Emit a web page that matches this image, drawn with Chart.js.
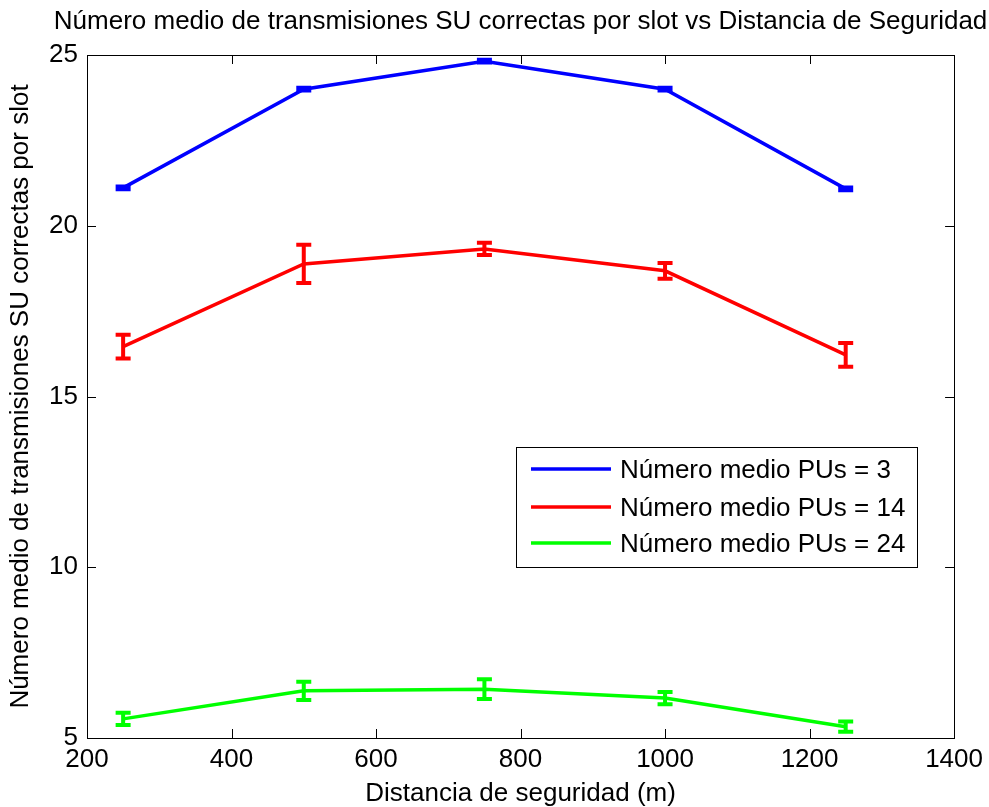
<!DOCTYPE html>
<html>
<head>
<meta charset="utf-8">
<script src="https://cdn.jsdelivr.net/npm/chart.js@4/dist/chart.umd.min.js"></script>
<style>
  html, body { margin: 0; padding: 0; background: #fff; }
  #wrap { width: 989px; height: 807px; }
</style>
</head>
<body>
<div id="wrap"><canvas id="c" width="989" height="807"></canvas></div>
<script>
// Safety distance (m)
const distances = [250, 500, 750, 1000, 1250];

// Mean number of correct SU transmissions per slot, one series per mean PU count
const seriesLabels = ['Número medio PUs = 3', 'Número medio PUs = 14', 'Número medio PUs = 24'];
const meanPU3  = [21.11, 24.00, 24.82, 24.00, 21.08];
const meanPU14 = [16.46, 18.88, 19.32, 18.68, 16.22];
const meanPU24 = [5.56, 6.38, 6.43, 6.17, 5.33];

// Half-width of the error bars
const errPU3  = [0.04, 0.04, 0.04, 0.04, 0.04];
const errPU14 = [0.35, 0.56, 0.18, 0.23, 0.35];
const errPU24 = [0.18, 0.27, 0.29, 0.18, 0.15];

const xTicks = [200, 400, 600, 800, 1000, 1200, 1400];
const yTicks = [5, 10, 15, 20, 25];

const chartTitle = 'Número medio de transmisiones SU correctas por slot vs Distancia de Seguridad';
const xTitle = 'Distancia de seguridad (m)';
const yTitle = 'Número medio de transmisiones SU correctas por slot';

const FONT = '"Liberation Sans", Arial, Helvetica, sans-serif';
const colors = ['#0000ff', '#ff0000', '#00ff00'];

const means = [meanPU3, meanPU14, meanPU24];
const errs = [errPU3, errPU14, errPU24];

const datasets = means.map((vals, k) => ({
  label: seriesLabels[k],
  data: distances.map((d, i) => ({ x: d, y: vals[i] })),
  errors: errs[k],
  borderColor: colors[k],
  backgroundColor: colors[k],
  borderWidth: 3.5,
  pointRadius: 0,
  tension: 0,
  fill: false
}));

// Vertical error bars with caps, placed through the chart scales
const errorBars = {
  id: 'errorBars',
  afterDatasetsDraw(chart) {
    const ctx = chart.ctx;
    const xs = chart.scales.x, ys = chart.scales.y;
    ctx.save();
    chart.data.datasets.forEach(ds => {
      ctx.strokeStyle = ds.borderColor;
      ctx.lineWidth = 4;
      ctx.lineCap = 'butt';
      ds.data.forEach((p, i) => {
        const e = ds.errors[i];
        const x = xs.getPixelForValue(p.x);
        const yt = ys.getPixelForValue(p.y + e);
        const yb = ys.getPixelForValue(p.y - e);
        const hw = 7.5;
        ctx.beginPath();
        ctx.moveTo(x, yt); ctx.lineTo(x, yb);
        ctx.moveTo(x - hw, yt); ctx.lineTo(x + hw, yt);
        ctx.moveTo(x - hw, yb); ctx.lineTo(x + hw, yb);
        ctx.stroke();
      });
    });
    ctx.restore();
  }
};

// Box around the plot area with inward tick marks on all four sides
const axesBox = {
  id: 'axesBox',
  afterDraw(chart) {
    const ctx = chart.ctx;
    const a = chart.chartArea;
    const xs = chart.scales.x, ys = chart.scales.y;
    const len = 9;
    ctx.save();
    ctx.strokeStyle = '#000';
    ctx.lineWidth = 1;
    ctx.beginPath();
    xTicks.forEach(v => {
      const x = Math.round(xs.getPixelForValue(v)) + 0.5;
      ctx.moveTo(x, a.bottom); ctx.lineTo(x, a.bottom - len);
      ctx.moveTo(x, a.top); ctx.lineTo(x, a.top + len);
    });
    yTicks.forEach(v => {
      const y = Math.round(ys.getPixelForValue(v)) + 0.5;
      ctx.moveTo(a.left, y); ctx.lineTo(a.left + len, y);
      ctx.moveTo(a.right, y); ctx.lineTo(a.right - len, y);
    });
    ctx.stroke();
    ctx.strokeRect(Math.round(a.left) + 0.5, Math.round(a.top) + 0.5,
                   Math.round(a.right - a.left), Math.round(a.bottom - a.top));
    ctx.restore();
  }
};

// Title centred over the plot area; it is wider than the plot, so it is
// drawn here rather than squeezed into the plot width
const plotTitle = {
  id: 'plotTitle',
  afterDraw(chart) {
    const ctx = chart.ctx;
    const a = chart.chartArea;
    ctx.save();
    ctx.font = '26px ' + FONT;
    ctx.fillStyle = '#000';
    ctx.textAlign = 'center';
    ctx.textBaseline = 'middle';
    ctx.fillText(chartTitle, (a.left + a.right) / 2, 22);
    ctx.restore();
  }
};

// Legend box inside the plot area, lower right
const legendBox = {
  id: 'legendBox',
  afterDraw(chart) {
    const ctx = chart.ctx;
    const bx = 516, by = 447, bw = 401, bh = 120;
    const rows = [469, 507, 543];
    ctx.save();
    ctx.fillStyle = '#fff';
    ctx.fillRect(bx, by, bw, bh);
    ctx.strokeStyle = '#000';
    ctx.lineWidth = 1;
    ctx.strokeRect(bx + 0.5, by + 0.5, bw, bh);
    ctx.font = '26px ' + FONT;
    ctx.textBaseline = 'alphabetic';
    ctx.textAlign = 'left';
    chart.data.datasets.forEach((ds, k) => {
      const y = rows[k];
      ctx.strokeStyle = ds.borderColor;
      ctx.lineWidth = 3.5;
      ctx.beginPath();
      ctx.moveTo(531, y); ctx.lineTo(611, y);
      ctx.stroke();
      ctx.fillStyle = '#000';
      ctx.fillText(ds.label, 620, y + 9.3);
    });
    ctx.restore();
  }
};

new Chart(document.getElementById('c'), {
  type: 'line',
  data: { datasets },
  plugins: [errorBars, axesBox, plotTitle, legendBox],
  options: {
    responsive: false,
    animation: false,
    devicePixelRatio: 1,
    layout: { padding: { left: 0, right: 34, top: 55, bottom: 0 } },
    plugins: {
      legend: { display: false },
      tooltip: { enabled: false },
      title: { display: false }
    },
    scales: {
      x: {
        type: 'linear',
        min: 200, max: 1400,
        afterFit(s) { s.height = 69; },
        afterBuildTicks(s) { s.ticks = xTicks.map(v => ({ value: v })); },
        grid: { display: false, drawTicks: false },
        border: { display: false },
        ticks: {
          color: '#000', padding: 6, font: { family: FONT, size: 26 },
          callback: v => String(v)
        },
        title: {
          display: true,
          text: xTitle,
          color: '#000',
          font: { family: FONT, size: 26 },
          padding: { top: 0, bottom: -2 }
        }
      },
      y: {
        type: 'linear',
        min: 5, max: 25,
        afterFit(s) { s.width = 87; },
        afterBuildTicks(s) { s.ticks = yTicks.map(v => ({ value: v })); },
        grid: { display: false, drawTicks: false },
        border: { display: false },
        ticks: {
          color: '#000', padding: 9, font: { family: FONT, size: 26 },
          callback: v => String(v)
        },
        title: {
          display: true,
          text: yTitle,
          color: '#000',
          font: { family: FONT, size: 26 },
          padding: { top: 5, bottom: 0 }
        }
      }
    }
  }
});
</script>
</body>
</html>
